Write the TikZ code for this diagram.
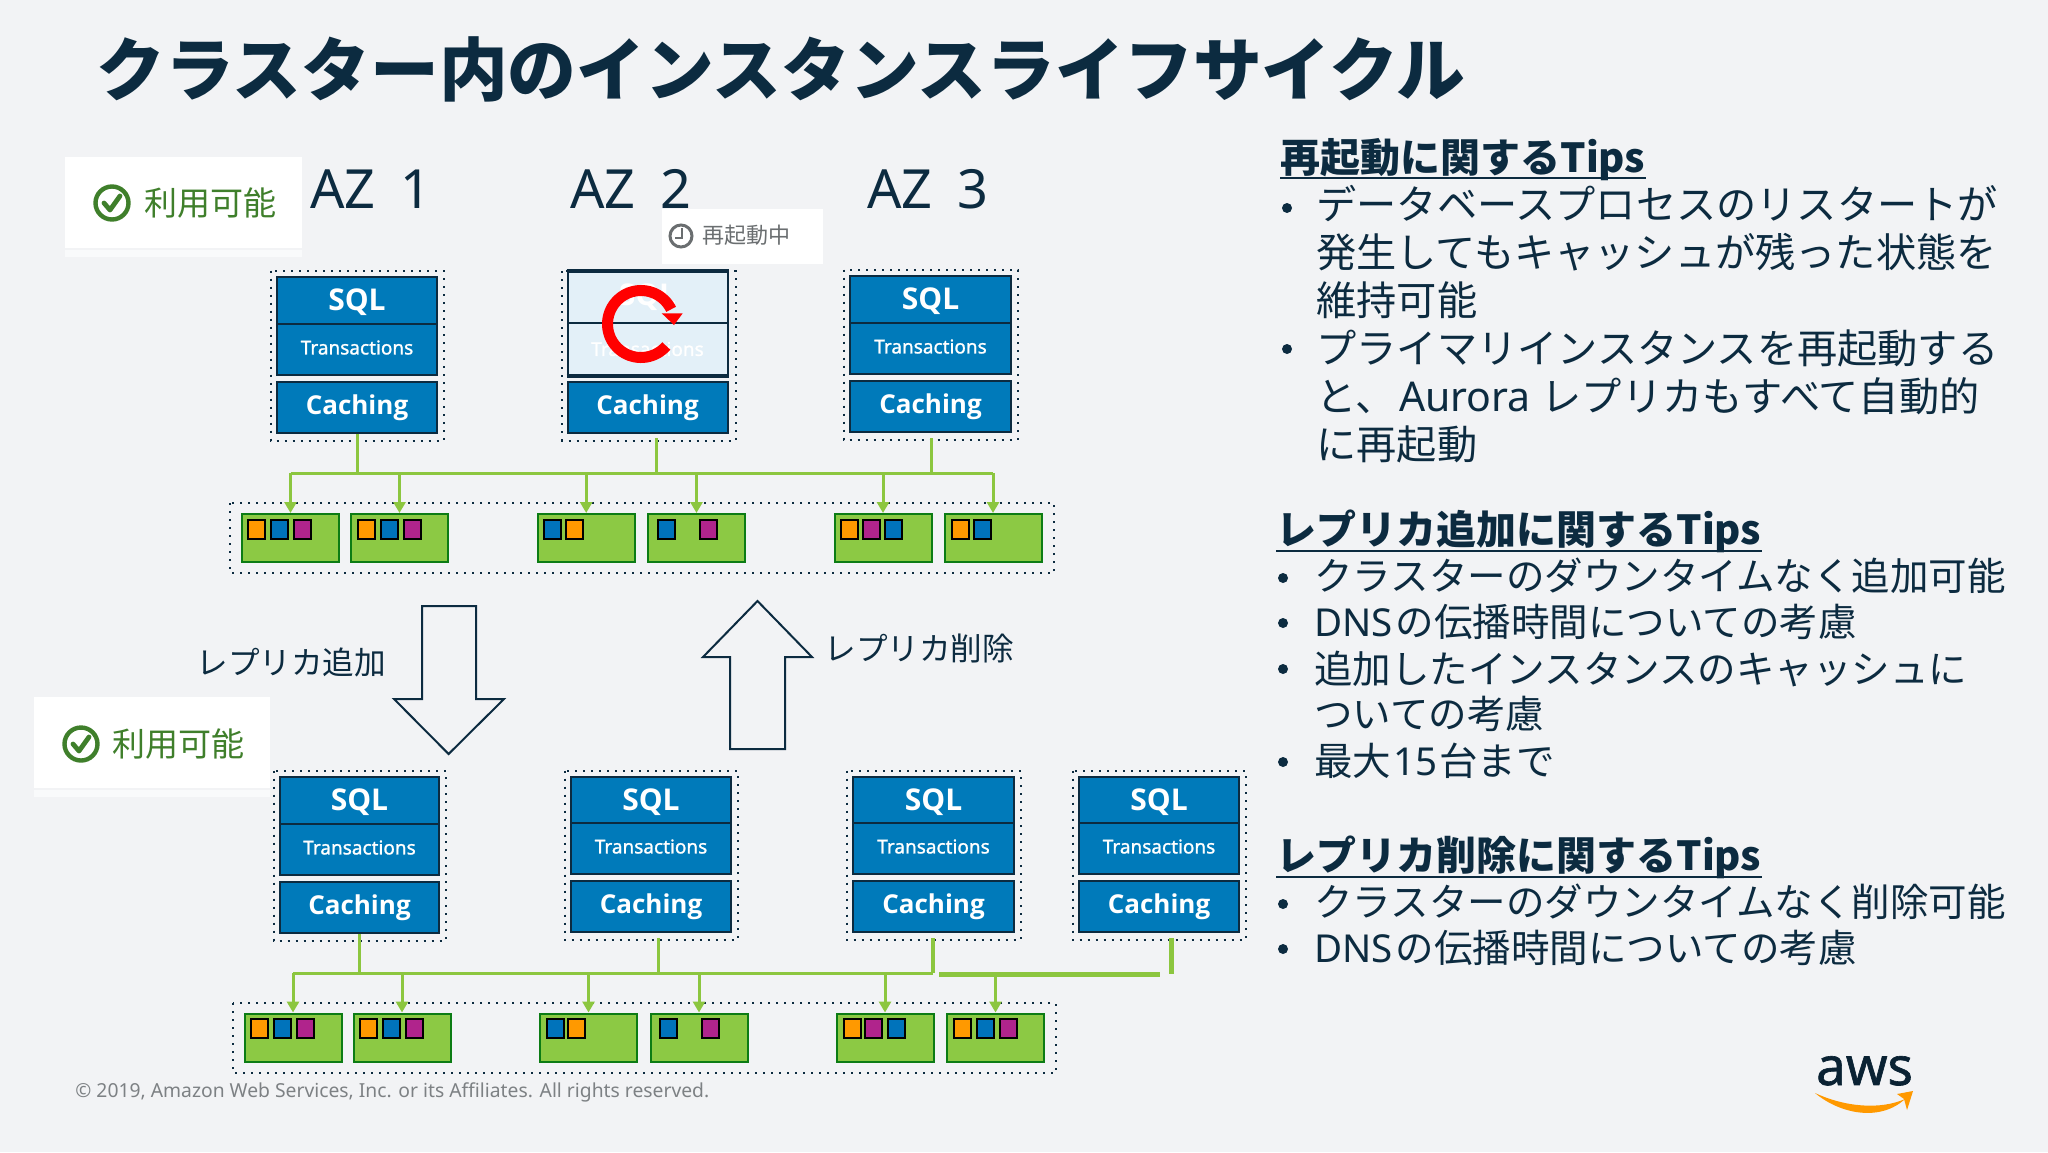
\documentclass[tikz,border=0pt]{standalone}
\usepackage{fontspec}
\setmainfont{Noto Sans CJK JP}
\newfontfamily\latinf{Noto Sans}
\newfontfamily\latinm{Noto Sans}[FakeBold=1.2]
\newfontfamily\latinb{Open Sans}
\usetikzlibrary{arrows.meta,calc}
\definecolor{bgc}{HTML}{F2F3F5}
\definecolor{navy}{HTML}{0C2B40}
\definecolor{boxblue}{HTML}{007ABA}
\definecolor{grnfill}{HTML}{8CC944}
\definecolor{grnline}{HTML}{0C7C14}
\definecolor{connc}{HTML}{8CC63F}
\definecolor{sqorange}{HTML}{FF9900}
\definecolor{sqblue}{HTML}{0073BB}
\definecolor{sqpurple}{HTML}{B0248C}
\definecolor{okgreen}{HTML}{3F7F2B}
\definecolor{greytext}{HTML}{7D8184}
\definecolor{paleblue}{HTML}{E3F0F8}
\tikzset{
  dotbox/.style={draw=navy,line width=1pt,dash pattern=on 1pt off 3pt},
  sbox/.style={draw=navy,line width=1pt,fill=boxblue,inner sep=0pt,text=white},
  pbox/.style={draw=navy,line width=1pt,fill=paleblue,inner sep=0pt,text=white},
  sqltext/.style={font=\latinb\bfseries\fontsize{15}{16}\selectfont},
  trtext/.style={font=\latinm\fontsize{9.5}{10}\selectfont},
  catext/.style={font=\latinb\bfseries\fontsize{13}{14}\selectfont},
  grn/.style={draw=grnline,line width=1pt,fill=grnfill,inner sep=0pt,minimum width=48.5pt,minimum height=24pt},
  sq/.style={draw=black,line width=1pt,inner sep=0pt,minimum width=8.5pt,minimum height=9.5pt,anchor=north west},
  conn/.style={draw=connc,line width=1.5pt},
  connthick/.style={draw=connc,line width=2.2pt},
  connarrow/.style={draw=connc,line width=1.5pt,-{Triangle[width=6pt,length=5.5pt,fill=connc]}},
  bigarrow/.style={draw=navy,line width=1pt,fill=bgc,line join=miter},
  badge/.style={fill=white,inner sep=0pt,anchor=north west},
  badgeband/.style={fill=white,opacity=.6,inner sep=0pt,anchor=north west},
  oktext/.style={text=okgreen,anchor=west,inner sep=0pt,font=\fontsize{16.5}{16}\selectfont},
  az/.style={text=navy,anchor=west,inner sep=0pt,font=\latinf\fontsize{27}{27}\selectfont},
  lbl/.style={text=navy,anchor=west,inner sep=0pt,font=\fontsize{15.8}{16}\selectfont},
  head/.style={text=navy,anchor=west,inner sep=0pt,font=\fontsize{20}{20}\selectfont\bfseries},
  body/.style={text=navy,anchor=west,inner sep=0pt,font=\fontsize{20.1}{20}\selectfont},
  bodyb/.style={text=navy,anchor=west,inner sep=0pt,font=\fontsize{19.25}{20}\selectfont},
  dotb/.style={fill=navy,circle,inner sep=0pt,minimum size=5pt},
  under/.style={navy,line width=1pt},
}
\newcommand\stackbox[8]{%
  \draw[dotbox] (#2-6.5,#4-6.5) rectangle (#3+6.5,#8+7.5);
  \node[sbox,sqltext,minimum width={(#3-#2)*0.5pt},minimum height={(#5-#4)*0.5pt}] (#1s) at ({(#2+#3)/2},{(#4+#5)/2}) {};
  \node[text=white,sqltext,inner sep=0pt] (#1sl) at ({(#2+#3)/2},{(#4+#5)/2+2}) {SQL};
  \node[sbox,trtext,minimum width={(#3-#2)*0.5pt},minimum height={(#6-#5)*0.5pt}] (#1t) at ({(#2+#3)/2},{(#5+#6)/2}) {};
  \node[text=white,trtext,inner sep=0pt] (#1tl) at ({(#2+#3)/2},{(#5+#6)/2-2}) {Transactions};
  \node[sbox,catext,minimum width={(#3-#2)*0.5pt},minimum height={(#8-#7)*0.5pt}] (#1c) at ({(#2+#3)/2},{(#7+#8)/2}) {Caching};
}
\newcommand\sqr[4]{\node[sq,fill=#4] (#1) at (#2,#3) {};}
\newcommand\okicon[3]{%
  \draw[okgreen,line width=2.2pt] (#2,#3) circle[radius=16.5];
  \draw[okgreen,line width=2.4pt,line cap=round,line join=round] (#2-8,#3+0) -- (#2-2,#3+7) -- (#2+8,#3-7);
}
\begin{document}
\begin{tikzpicture}[x=0.5pt,y=-0.5pt]
\useasboundingbox (0,0) rectangle (2048,1152);
\fill[bgc] (0,0) rectangle (2048,1152);

% title
\node[text=navy,anchor=west,inner sep=0pt,font=\fontsize{34.4}{34}\selectfont\bfseries] (title) at (96,69) {クラスター内のインスタンスライフサイクル};

% badges
\node[badgeband,minimum width=118.5pt,minimum height=3.5pt] (bb1) at (64.5,250) {};
\node[badge,minimum width=118.5pt,minimum height=45.5pt] (b1) at (64.5,157) {};
\okicon{i1}{112}{203}
\node[oktext] (ok1) at (144,203) {利用可能};
\node[badgeband,minimum width=118pt,minimum height=3.5pt] (bb2) at (34,790) {};
\node[badge,minimum width=118pt,minimum height=45.5pt] (b2) at (34,697) {};
\okicon{i2}{81}{744}
\node[oktext] (ok2) at (112,744) {利用可能};

% AZ headings
\node[az] (az1) at (310,189) {AZ\hspace{12.5pt}1};
\node[az] (az2) at (570,189) {AZ\hspace{12.5pt}2};
\node[az] (az3) at (867,189) {AZ\hspace{12.5pt}3};

% top stacks
\stackbox{a}{277}{437}{277}{324}{375}{382}{433}
\stackbox{c}{850}{1011}{276}{323}{374}{381}{432}
% restarting stack
\draw[dotbox] (562,271) rectangle (735.5,440.5);
\node[pbox,sqltext,minimum width=80pt,minimum height=25.5pt] (bs) at (647.5,297) {SQL};
\node[pbox,trtext,minimum width=80pt,minimum height=26pt] (bt) at (647.5,349) {Transactions};
\draw[navy,line width=1.6pt] (bs.north west) -- (bs.north east);
\draw[navy,line width=2pt] (bt.south west) -- (bt.south east);
\node[sbox,catext,minimum width=80pt,minimum height=25.5pt] (bc) at (647.5,407.5) {Caching};
% restart glyph
\draw[red,line width=5.5pt] plot[domain=-41:-334,samples=60,smooth] ({641+33.5*cos(\x)},{324-33.5*sin(\x)});
\fill[red] (661.7,313.3) -- (682.7,313.3) -- (674,325) -- cycle;

% restart badge
\node[badge,minimum width=80.5pt,minimum height=27.5pt] (b3) at (662,209) {};
\draw[greytext!85!black,line width=1.5pt] (681,236) circle[radius=11];
\draw[greytext!85!black,line width=1.3pt] (682,228) -- (682,238) -- (675,238);
\node[text=greytext!85!black,anchor=west,inner sep=0pt,font=\fontsize{11}{11}\selectfont] (restart) at (702,235) {再起動中};

% top replica row
\draw[dotbox] (230,503) rectangle (1054,573);
\node[grn] (g1) at (290.5,538) {};
\node[grn] (g2) at (399.5,538) {};
\node[grn] (g3) at (586.2,538) {};
\node[grn] (g4) at (696.5,538) {};
\node[grn] (g5) at (883,538) {};
\node[grn] (g6) at (993,538) {};
\sqr{p1}{247}{519}{sqorange}\sqr{p2}{270}{519}{sqblue}\sqr{p3}{293}{519}{sqpurple}
\sqr{p4}{356.5}{519}{sqorange}\sqr{p5}{379.5}{519}{sqblue}\sqr{p6}{402.5}{519}{sqpurple}
\sqr{p7}{543}{519}{sqblue}\sqr{p8}{564.5}{519}{sqorange}
\sqr{p9}{656.5}{519}{sqblue}\sqr{p10}{698.5}{519}{sqpurple}
\sqr{p11}{840}{519}{sqorange}\sqr{p12}{861.5}{519}{sqpurple}\sqr{p13}{884}{519}{sqblue}
\sqr{p14}{950.5}{519}{sqorange}\sqr{p15}{973}{519}{sqblue}

% top connectors
\coordinate (busl) at (g1.north |- 0,473);
\coordinate (busr) at (g6.north |- 0,473);
\coordinate (st2) at (656,438);
\coordinate (st3) at (931,438);
\draw[conn] (busl) -- (busr);
\draw[conn] (ac.south) -- (ac.south |- busl);
\draw[conn] (st2) -- (st2 |- busl);
\draw[conn] (st3) -- (st3 |- busl);
\foreach \g in {g1,g2,g3,g4,g5,g6} \draw[connarrow] (\g.north |- busl) -- (\g.north);

% big arrows
\coordinate (dn1) at (422,606);\coordinate (dn2) at (476,606);
\coordinate (dn3) at (476,699);\coordinate (dn4) at (504,699);
\coordinate (dn5) at (448.6,754);\coordinate (dn6) at (394,699);\coordinate (dn7) at (422,699);
\draw[bigarrow] (dn1) -- (dn2) -- (dn3) -- (dn4) -- (dn5) -- (dn6) -- (dn7) -- cycle;
\coordinate (up1) at (730,749);\coordinate (up2) at (785,749);
\coordinate (up3) at (785,657);\coordinate (up4) at (812,657);
\coordinate (up5) at (757.5,601);\coordinate (up6) at (703,657);\coordinate (up7) at (730,657);
\draw[bigarrow] (up1) -- (up2) -- (up3) -- (up4) -- (up5) -- (up6) -- (up7) -- cycle;
\node[lbl] (addl) at (196,662) {レプリカ追加};
\node[lbl] (dell) at (824,648) {レプリカ削除};

% bottom stacks
\stackbox{d}{280}{439}{777}{824}{875}{882}{933}
\stackbox{e}{571}{731}{777}{823}{874}{881}{932}
\stackbox{f}{853}{1014}{777}{823}{874}{881}{932}
\stackbox{h}{1079}{1239}{777}{823}{874}{881}{932}

% bottom replica row
\draw[dotbox] (233,1003) rectangle (1055.5,1073);
\node[grn] (k1) at (293,1037.5) {};
\node[grn] (k2) at (402,1037.5) {};
\node[grn] (k3) at (588.5,1037.5) {};
\node[grn] (k4) at (699,1037.5) {};
\node[grn] (k5) at (885,1037.5) {};
\node[grn] (k6) at (995.5,1037.5) {};
\sqr{q1}{249.5}{1018}{sqorange}\sqr{q2}{272.5}{1018}{sqblue}\sqr{q3}{295.5}{1018}{sqpurple}
\sqr{q4}{358.5}{1018}{sqorange}\sqr{q5}{382}{1018}{sqblue}\sqr{q6}{404.5}{1018}{sqpurple}
\sqr{q7}{545.5}{1018}{sqblue}\sqr{q8}{567}{1018}{sqorange}
\sqr{q9}{658.5}{1018}{sqblue}\sqr{q10}{701}{1018}{sqpurple}
\sqr{q11}{842.5}{1018}{sqorange}\sqr{q12}{864}{1018}{sqpurple}\sqr{q13}{886.5}{1018}{sqblue}
\sqr{q14}{953}{1018}{sqorange}\sqr{q15}{975.5}{1018}{sqblue}\sqr{q16}{998.5}{1018}{sqpurple}

% bottom connectors
\coordinate (bbl) at (k1.north |- 0,973);
\coordinate (bbr) at (933,973);
\coordinate (st5) at (658,938);
\coordinate (st6) at (933,938);
\coordinate (st7) at (1171.5,938);
\coordinate (st7e) at (1171.5,974);
\coordinate (thl) at (939,974.5);
\coordinate (thr) at (1160,974.5);
\draw[conn] (bbl) -- (bbr);
\draw[conn] (dc.south) -- (dc.south |- bbl);
\draw[conn] (st5) -- (st5 |- bbl);
\draw[connthick] (st6) -- (st6 |- bbl);
\draw[connthick] (st7) -- (st7e);
\draw[connthick] (thl) -- (thr);
\foreach \g in {k1,k2,k3,k4,k5,k6} \draw[connarrow] (\g.north |- bbl) -- (\g.north);

% right column
\node[head] (h1) at (1280,160) {再起動に関するTips};
\draw[under] (h1.west |- 0,178) -- (h1.east |- 0,178);
\node[dotb] (d1) at (1287,208) {};
\node[body] (t1) at (1316,204) {データベースプロセスのリスタートが};
\node[body] (t2) at (1316,252) {発生してもキャッシュが残った状態を};
\node[body] (t3) at (1316,300) {維持可能};
\node[dotb] (d2) at (1287,349) {};
\node[body] (t4) at (1316,348) {プライマリインスタンスを再起動する};
\node[body] (t5) at (1316,396) {と、\hspace{2pt}{\latinf\fontsize{20.5}{20}\selectfont Aurora}\hspace{1pt} レプリカもすべて自動的};
\node[body] (t6) at (1316,444) {に再起動};

\node[head] (h2) at (1276,531) {レプリカ追加に関するTips};
\draw[under] (h2.west |- 0,551) -- (h2.east |- 0,551);
\node[dotb] (d3) at (1283,578) {};
\node[bodyb] (u1) at (1314,576) {クラスターのダウンタイムなく追加可能};
\node[dotb] (d4) at (1283,623) {};
\node[bodyb] (u2) at (1314,622) {{\latinf DNS}\hspace{1.5pt}の伝播時間についての考慮};
\node[dotb] (d5) at (1283,669) {};
\node[bodyb] (u3) at (1314,669) {追加したインスタンスのキャッシュに};
\node[bodyb] (u4) at (1314,714) {ついての考慮};
\node[dotb] (d6) at (1283,762) {};
\node[bodyb] (u5) at (1314,761) {最大\hspace{1pt}{\latinf 15}\hspace{1pt}台まで};

\node[head] (h3) at (1276,857) {レプリカ削除に関するTips};
\draw[under] (h3.west |- 0,877) -- (h3.east |- 0,877);
\node[dotb] (d7) at (1283,904) {};
\node[bodyb] (v1) at (1314,902) {クラスターのダウンタイムなく削除可能};
\node[dotb] (d8) at (1283,949) {};
\node[bodyb] (v2) at (1314,948) {{\latinf DNS}\hspace{1.5pt}の伝播時間についての考慮};

% footer
\node[text=greytext,anchor=west,inner sep=0pt,font=\latinf\fontsize{9.65}{11}\selectfont] (copy) at (75,1092) {© 2019, Amazon Web Services, Inc. or its Affiliates. All rights reserved.};
\node[text=black!20!navy,anchor=base,inner sep=0pt,font=\latinm\fontsize{26.5}{27}\selectfont] (aws) at (1864.5,1085) {aws};
\fill[sqorange] (1815,1093) .. controls (1840,1114) and (1880,1122) .. (1905,1099) .. controls (1880,1110) and (1845,1107) .. (1815,1093) -- cycle;
\fill[sqorange] (1897,1094) -- (1913,1091) -- (1907,1110) -- (1904,1099) -- cycle;
\end{tikzpicture}
\end{document}
